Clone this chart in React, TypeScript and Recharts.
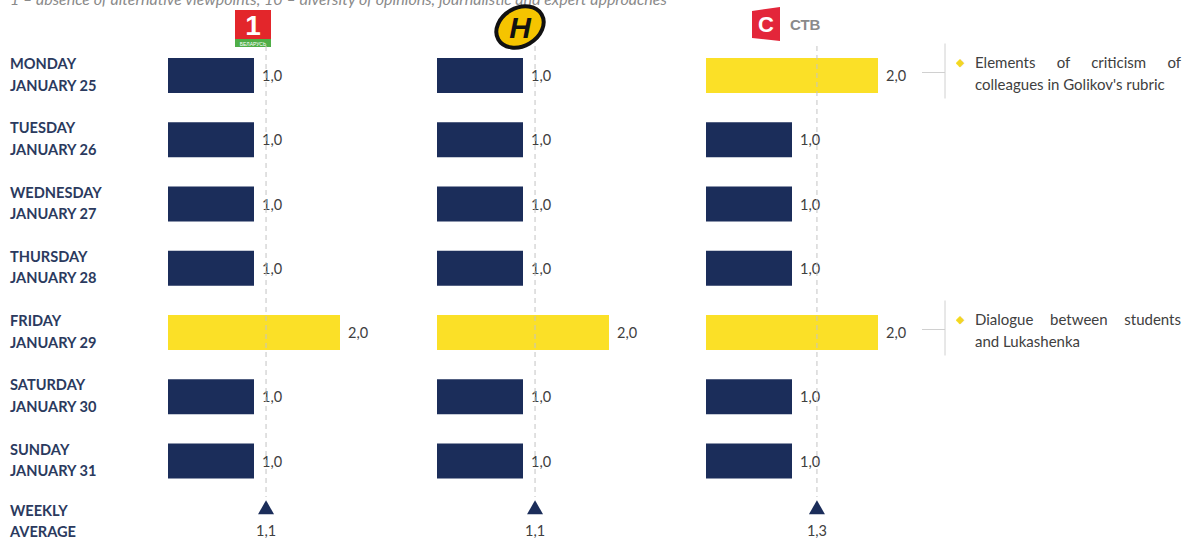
import React from "react";
import { ComposedChart, Bar, Cell, XAxis, YAxis, ReferenceLine, Rectangle } from "recharts";

// scores per day, 1 = no alternative views ... 10 = diversity of opinions
const dayNames = ["MONDAY", "TUESDAY", "WEDNESDAY", "THURSDAY", "FRIDAY", "SATURDAY", "SUNDAY"];
const dayDates = ["JANUARY 25", "JANUARY 26", "JANUARY 27", "JANUARY 28", "JANUARY 29", "JANUARY 30", "JANUARY 31"];
const avgRowLabel = ["WEEKLY", "AVERAGE"];

const belarus1Scores = [1, 1, 1, 1, 2, 1, 1];
const ontScores = [1, 1, 1, 1, 2, 1, 1];
const stvScores = [2, 1, 1, 1, 2, 1, 1];
const weeklyAverages = [1.14, 1.14, 1.29];

const stvNotes = [
  "Elements of criticism of colleagues in Golikov's rubric",
  "",
  "",
  "",
  "Dialogue between students and Lukashenka",
  "",
  "",
];

const scaleNote =
  "1 – absence of alternative viewpoints, 10 – diversity of opinions, journalistic and expert approaches";

const NAVY = "#1b2d5a";
const YELLOW = "#fbe027";
const TEXT = "#404040";
const FONT = "Lato, 'Open Sans', sans-serif";

const fmt = (v: number) => v.toFixed(1).replace(".", ",");

type Row = { day: string; score: number; kind: "day" | "avg" };

function buildRows(scores: number[], avg: number): Row[] {
  const rows: Row[] = scores.map((s, i) => ({ day: dayNames[i], score: s, kind: "day" }));
  rows.push({ day: "WEEKLY", score: avg, kind: "avg" });
  return rows;
}

const DayTick = (props: any) => {
  const { y, payload } = props;
  const i = payload.index;
  const lines = i < 7 ? [dayNames[i], dayDates[i]] : avgRowLabel;
  const off = i < 7 ? -6 : -9;
  return (
    <text fill="#2b3a5e" fontSize={14.6} fontWeight={700} fontFamily={FONT}>
      <tspan x={10} y={y + off}>{lines[0]}</tspan>
      <tspan x={10} y={y + off + 21.5}>{lines[1]}</tspan>
    </text>
  );
};

const AvgLine = (p: any) => {
  const top = Math.min(p.y1, p.y2);
  const bottom = Math.max(p.y1, p.y2);
  return (
    <line x1={p.x1} x2={p.x2} y1={top + 3} y2={bottom - 60} stroke="#c4c4c4" strokeWidth={1} strokeDasharray="5 4" />
  );
};

function makeShape(notes?: string[]) {
  return (p: any) => {
    const { x, y, width, height, payload, index } = p;
    const cy = y + height / 2;
    if (payload.kind === "avg") {
      const cx = x + width;
      return (
        <g>
          <path d={`M${cx},${cy - 25} L${cx + 8},${cy - 11} L${cx - 8},${cy - 11} Z`} fill={NAVY} />
          <text x={cx} y={cy + 5} textAnchor="middle" dominantBaseline="central" fill={TEXT} fontSize={14.5} fontFamily={FONT}>
            {fmt(payload.score)}
          </text>
        </g>
      );
    }
    const note = notes ? notes[index] : "";
    return (
      <g>
        <Rectangle x={x} y={y} width={width} height={height} fill={p.fill} />
        <text x={x + width + 8} y={cy} dominantBaseline="central" fill={TEXT} fontSize={14.5} fontFamily={FONT}>
          {fmt(payload.score)}
        </text>
        {note ? (
          <g>
            <line x1={x + 216} x2={x + 239} y1={cy - 3} y2={cy - 3} stroke="#d0d0d0" />
            <line x1={x + 239} x2={x + 239} y1={cy - 32} y2={cy + 23} stroke="#d0d0d0" />
            <foreignObject x={x + 250} y={cy - 25} width={236} height={52}>
              <div style={{ display: "flex", fontFamily: FONT, fontSize: 15, lineHeight: "22px", color: TEXT }}>
                <span style={{ color: "#f2d624", fontSize: 11, width: 19, flex: "none" }}>◆</span>
                <div style={{ width: 206, textAlign: "justify" }}>{note}</div>
              </div>
            </foreignObject>
          </g>
        ) : null}
      </g>
    );
  };
}

function Panel(props: { scores: number[]; avg: number; left: number; showDays: boolean; notes?: string[]; right: number }) {
  const { scores, avg, left, showDays, notes, right } = props;
  const rows = buildRows(scores, avg);
  const yAxisW = showDays ? 168 : 0;
  const width = yAxisW + 258 + right;
  return (
    <div style={{ position: "absolute", left: left - yAxisW, top: 0 }}>
      <ComposedChart layout="vertical" width={width} height={557} data={rows} margin={{ top: 43, right, bottom: 0, left: 0 }}>
        <XAxis type="number" domain={[0, 3]} hide />
        <YAxis
          type="category"
          dataKey="day"
          width={168}
          hide={!showDays}
          axisLine={false}
          tickLine={false}
          tick={<DayTick />}
          interval={0}
        />
        <Bar dataKey="score" barSize={35} isAnimationActive={false} shape={makeShape(notes)}>
          {rows.map((r, i) => (
            <Cell key={i} fill={r.score > 1.5 ? YELLOW : NAVY} />
          ))}
        </Bar>
        <ReferenceLine x={avg} shape={AvgLine} />
      </ComposedChart>
    </div>
  );
}

function Logos() {
  return (
    <svg width={1188} height={60} style={{ position: "absolute", left: 0, top: 0 }}>
      {/* Belarus 1 */}
      <rect x={235} y={10} width={36} height={29} fill="#e3262b" />
      <rect x={235} y={39} width={36} height={8} fill="#4fae48" />
      <text x={253} y={35} textAnchor="middle" fill="#fff" fontSize={28} fontWeight={700} fontFamily="Arial, sans-serif">1</text>
      <text x={253} y={45.5} textAnchor="middle" fill="#fff" fontSize={5} fontFamily="Arial, sans-serif">БЕЛАРУСЬ</text>
      {/* ONT */}
      <ellipse cx={520} cy={27} rx={25} ry={19} fill="#f5c400" stroke="#111" strokeWidth={4} transform="rotate(-30 520 27)" />
      <text x={520} y={38} textAnchor="middle" fill="#111" fontSize={30} fontWeight={700} fontStyle="italic" fontFamily="Arial, sans-serif">Н</text>
      {/* STV */}
      <path d="M752,11 L780,7 L780,41 L752,38 Z" fill="#e3263a" />
      <text x={766} y={32} textAnchor="middle" fill="#fff" fontSize={22} fontWeight={700} fontFamily="Arial, sans-serif">С</text>
      <text x={790} y={30} fill="#8a8a8a" fontSize={15} fontWeight={700} fontFamily="Arial, sans-serif">СТВ</text>
    </svg>
  );
}

export default function App() {
  return (
    <div style={{ position: "absolute", left: 0, top: 0, width: 1188, height: 541, overflow: "hidden", background: "#fff" }}>
      <div
        style={{
          position: "absolute",
          left: 10,
          top: -10,
          fontFamily: FONT,
          fontStyle: "italic",
          fontSize: 16,
          lineHeight: "18px",
          color: "#8a8a8a",
          whiteSpace: "nowrap",
        }}
      >
        {scaleNote}
      </div>
      <Logos />
      <Panel scores={belarus1Scores} avg={weeklyAverages[0]} left={168} showDays right={10} />
      <Panel scores={ontScores} avg={weeklyAverages[1]} left={437} showDays={false} right={10} />
      <Panel scores={stvScores} avg={weeklyAverages[2]} left={706} showDays={false} notes={stvNotes} right={224} />
    </div>
  );
}
